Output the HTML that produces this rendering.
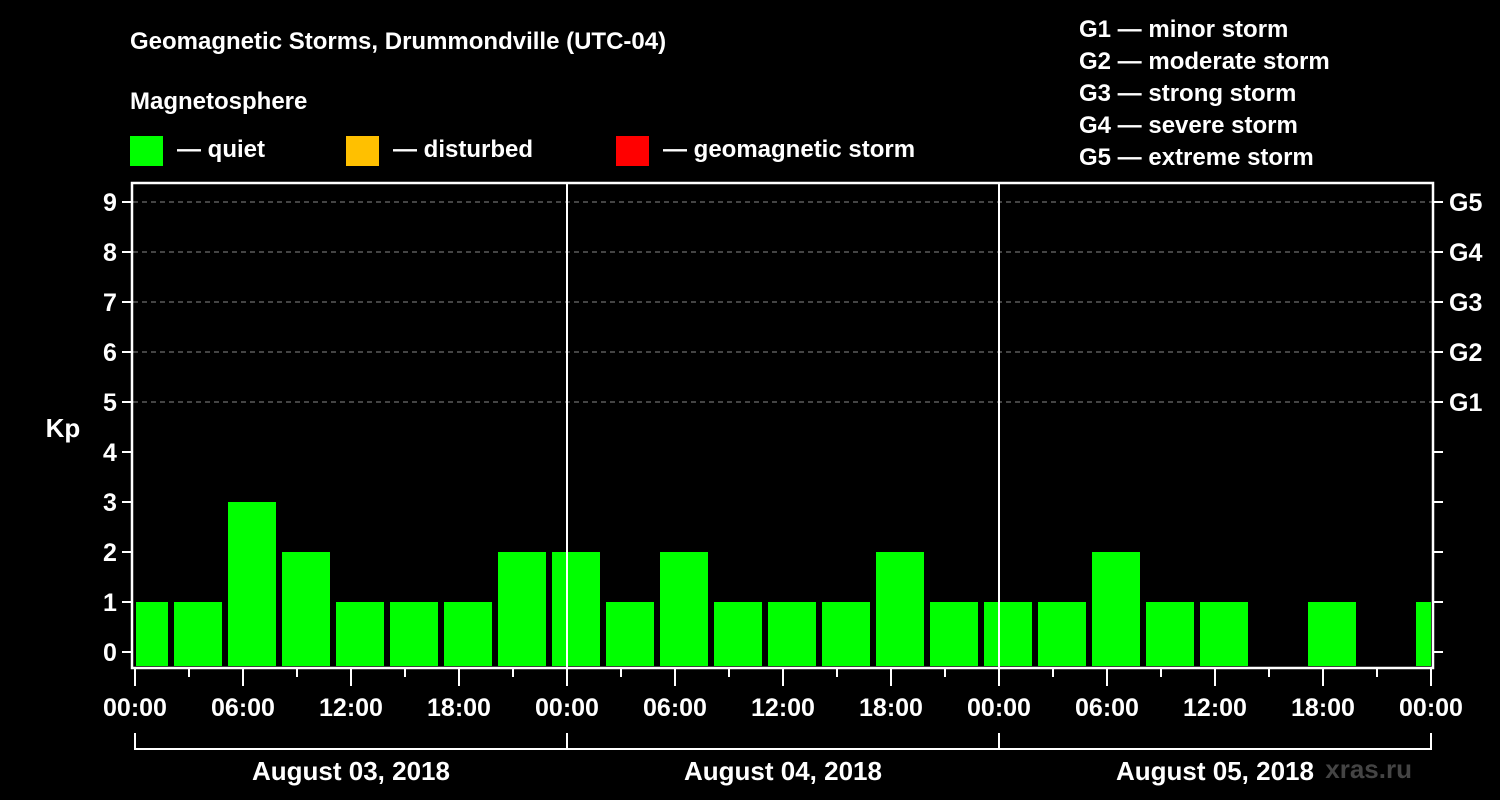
<!DOCTYPE html>
<html><head><meta charset="utf-8"><style>
body{margin:0;background:#000;}
svg{display:block;font-family:"Liberation Sans",Arial,sans-serif;font-weight:bold;}
</style></head><body>
<svg id="chart" width="1500" height="800" viewBox="0 0 1500 800">
<rect width="1500" height="800" fill="#000"/>
<text x="130" y="49" fill="#fff" font-size="24">Geomagnetic Storms, Drummondville (UTC-04)</text>
<text x="130" y="109" fill="#fff" font-size="24">Magnetosphere</text>
<g><rect x="130" y="136" width="33" height="30" fill="#00ff00"/><text x="177" y="157" fill="#fff" font-size="24">— quiet</text></g>
<g><rect x="346" y="136" width="33" height="30" fill="#ffc000"/><text x="393" y="157" fill="#fff" font-size="24">— disturbed</text></g>
<g><rect x="616" y="136" width="33" height="30" fill="#ff0000"/><text x="663" y="157" fill="#fff" font-size="24">— geomagnetic storm</text></g>
<g fill="#fff" font-size="24">
<text x="1079" y="37">G1 — minor storm</text>
<text x="1079" y="69">G2 — moderate storm</text>
<text x="1079" y="101">G3 — strong storm</text>
<text x="1079" y="133">G4 — severe storm</text>
<text x="1079" y="165">G5 — extreme storm</text>
</g>
<text x="63" y="437" fill="#fff" font-size="26" text-anchor="middle">Kp</text>
<text x="1412" y="778" fill="#444" font-size="26" text-anchor="end">xras.ru</text>
<defs><clipPath id="pc"><rect x="136" y="183" width="1295" height="485"/></clipPath></defs>
<g id="grid"></g>
<g id="bars" clip-path="url(#pc)"></g>
<g id="axes"></g>
</svg>
<script>
const kpValues=[1,1,3,2,1,1,1,2,2,1,2,1,1,1,2,1,1,1,2,1,1,null,1,null,1];
const slotStartHour=-1;
const yTicks=[0,1,2,3,4,5,6,7,8,9];
const gLabels=["G1","G2","G3","G4","G5"];
const xTickLabels=["00:00","06:00","12:00","18:00","00:00","06:00","12:00","18:00","00:00","06:00","12:00","18:00","00:00"];
const dayLabels=["August 03, 2018","August 04, 2018","August 05, 2018"];
const NS="http://www.w3.org/2000/svg";
const X0=135,PXH=18,Y0=652,PXK=50;
const xs=h=>X0+h*PXH, ys=v=>Y0-v*PXK;
function mk(tag,attrs,parent,txt){const e=document.createElementNS(NS,tag);for(const k in attrs)e.setAttribute(k,attrs[k]);if(txt!==undefined)e.textContent=txt;parent.appendChild(e);return e;}
const grid=document.getElementById('grid'),bars=document.getElementById('bars'),axes=document.getElementById('axes');
for(let k=5;k<=9;k++){const l=mk('line',{x1:133,x2:1432,y1:ys(k),y2:ys(k),stroke:'#888','stroke-dasharray':'5,4','stroke-width':1},grid);

}
kpValues.forEach((v,i)=>{if(v===null)return;const h=slotStartHour+3*i;
const r=mk('rect',{x:xs(h)+3,y:ys(v),width:48,height:666-ys(v),fill:v>=5?'#ff0000':(v>=4?'#ffc000':'#00ff00')},bars);

});
[24,48].forEach(h=>{const l=mk('line',{x1:xs(h),x2:xs(h),y1:182,y2:668,stroke:'#fff','stroke-width':2},axes);

});
const frame=mk('rect',{x:132,y:183,width:1301,height:485,fill:'none',stroke:'#fff','stroke-width':2.5},axes);


yTicks.forEach(k=>{const y=ys(k);
mk('line',{x1:122,x2:132,y1:y,y2:y,stroke:'#fff','stroke-width':2},axes);
mk('line',{x1:1433,x2:1443,y1:y,y2:y,stroke:'#fff','stroke-width':2},axes);
const t=mk('text',{x:110,y:y+9,fill:'#fff','font-size':25,'text-anchor':'middle'},axes,String(k));

});
gLabels.forEach((g,i)=>{const t=mk('text',{x:1449,y:ys(5+i)+9,fill:'#fff','font-size':25},axes,g);

});
for(let h=0;h<=72;h+=3){const major=h%6===0;mk('line',{x1:xs(h),x2:xs(h),y1:668,y2:major?686:677,stroke:'#fff','stroke-width':2},axes);}
xTickLabels.forEach((s,i)=>{const t=mk('text',{x:xs(i*6),y:716,fill:'#fff','font-size':25,'text-anchor':'middle'},axes,s);

});
mk('line',{x1:xs(0),x2:xs(72),y1:749,y2:749,stroke:'#fff','stroke-width':2},axes);
[0,24,48,72].forEach(h=>mk('line',{x1:xs(h),x2:xs(h),y1:733,y2:750,stroke:'#fff','stroke-width':2},axes));
dayLabels.forEach((d,i)=>{const t=mk('text',{x:xs(i*24+12),y:780,fill:'#fff','font-size':26,'text-anchor':'middle'},axes,d);

});
</script>
</body></html>
